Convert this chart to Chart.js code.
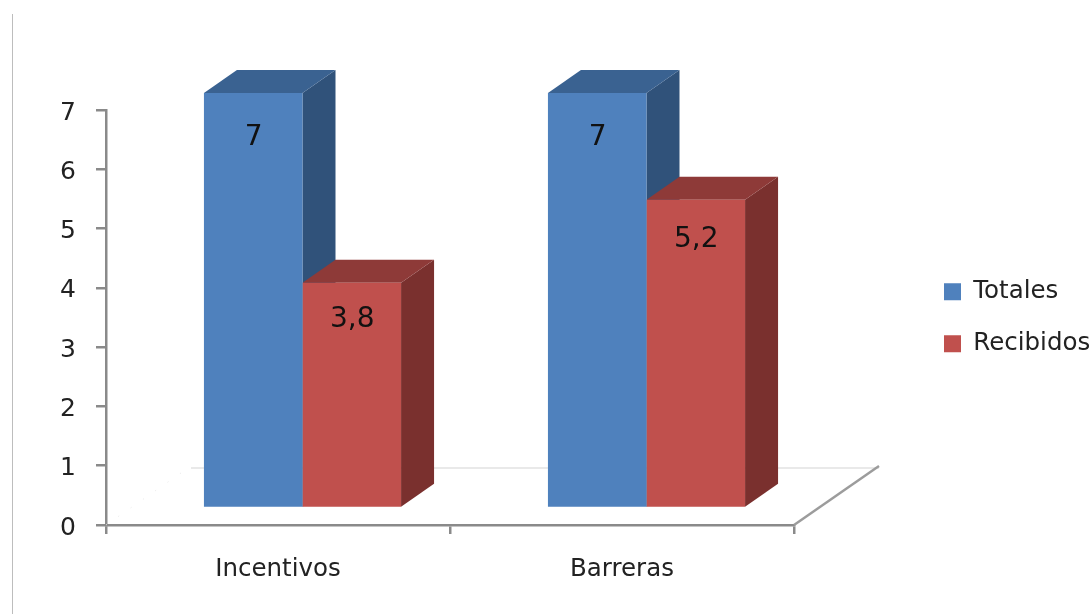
<!DOCTYPE html>
<html>
<head>
<meta charset="utf-8">
<style>
  html, body { margin: 0; padding: 0; background: #ffffff; }
  #box { position: relative; width: 1091px; height: 614px; }
</style>
<script src="https://cdn.jsdelivr.net/npm/chart.js@4"></script>
</head>
<body>
<div id="box"><canvas id="chart"></canvas></div>
<script>
const categories = ['Incentivos', 'Barreras'];
const totales = [7, 7];
const recibidos = [3.8, 5.2];
const yTicks = [0, 1, 2, 3, 4, 5, 6, 7];

const FONT = '"DejaVu Sans", sans-serif';
const TEXT = '#222222';
const AXIS = '#8a8a8a';

// Prism depth and the offset of the bar fronts from the axes
const DEPTH = { x: 33, y: -23 };
const SHIFT = { x: 24.5, y: -17 };
const FLOOR = { x: 85, y: -59 };

const SHADES = [
  { front: '#4f81bd', top: '#3a6291', side: '#30527a' },
  { front: '#c0504d', top: '#8e3a38', side: '#7a302e' }
];

function poly(ctx, color, pts) {
  ctx.fillStyle = color;
  ctx.beginPath();
  pts.forEach((p, i) => i ? ctx.lineTo(p[0], p[1]) : ctx.moveTo(p[0], p[1]));
  ctx.closePath();
  ctx.fill();
}

const prism = {
  id: 'prism',
  beforeLayout(chart) {
    // Reserve the gutter to the right of the plot for the legend
    const legend = chart.legend;
    if (legend && !legend.__wrapped) {
      const fit = legend.fit.bind(legend);
      legend.fit = function () { fit(); this.width = 297; };
      legend.__wrapped = true;
    }
  },
  afterLayout(chart) {
    const legend = chart.legend;
    legend.left = 916.5;
    legend.right = 1091;
    legend.top = 252;
    legend.bottom = 614;
  },
  beforeDraw(chart) {
    const { ctx } = chart;
    ctx.save();
    ctx.strokeStyle = '#bdbdbd';
    ctx.lineWidth = 1;
    ctx.beginPath();
    ctx.moveTo(12.5, 14);
    ctx.lineTo(12.5, 614);
    ctx.stroke();
    ctx.restore();
  },
  beforeDatasetsDraw(chart) {
    const { ctx, chartArea: a } = chart;
    // Floor of the 3D plot
    ctx.save();
    ctx.strokeStyle = '#e2e2e2';
    ctx.lineWidth = 1.5;
    ctx.beginPath();
    ctx.moveTo(a.left + FLOOR.x, a.bottom + FLOOR.y + 2);
    ctx.lineTo(a.right + FLOOR.x, a.bottom + FLOOR.y + 2);
    ctx.stroke();
    ctx.strokeStyle = '#9c9c9c';
    ctx.lineWidth = 2.5;
    ctx.beginPath();
    ctx.moveTo(a.right, a.bottom);
    ctx.lineTo(a.right + FLOOR.x, a.bottom + FLOOR.y);
    ctx.stroke();
    ctx.strokeStyle = '#e6e6e6';
    ctx.lineWidth = 1;
    ctx.setLineDash([1, 14]);
    ctx.beginPath();
    ctx.moveTo(a.left, a.bottom);
    ctx.lineTo(a.left + FLOOR.x, a.bottom + FLOOR.y);
    ctx.stroke();
    ctx.restore();

    ctx.save();
    ctx.translate(SHIFT.x, SHIFT.y);
    // Top and side faces, left to right so nearer prisms cover farther ones
    categories.forEach((_, i) => {
      chart.data.datasets.forEach((ds, d) => {
        const bar = chart.getDatasetMeta(d).data[i];
        const l = bar.x - bar.width / 2, r = bar.x + bar.width / 2;
        const t = bar.y, b = bar.base;
        const c = SHADES[d];
        poly(ctx, c.side, [[r, t], [r + DEPTH.x, t + DEPTH.y], [r + DEPTH.x, b + DEPTH.y], [r, b]]);
        poly(ctx, c.top, [[l, t], [l + DEPTH.x, t + DEPTH.y], [r + DEPTH.x, t + DEPTH.y], [r, t]]);
      });
    });
  },
  afterDatasetsDraw(chart) {
    const { ctx } = chart;
    // Value labels on the front faces
    ctx.fillStyle = '#111111';
    ctx.font = '28px ' + FONT;
    ctx.textAlign = 'center';
    ctx.textBaseline = 'middle';
    chart.data.datasets.forEach((ds, d) => {
      chart.getDatasetMeta(d).data.forEach((bar, i) => {
        const v = ds.data[i];
        const text = String(v).replace('.', ',');
        ctx.fillText(text, bar.x + 0.5, bar.y + 27.5 + 2.5 * v);
      });
    });
    ctx.restore();
  }
};

new Chart(document.getElementById('chart'), {
  type: 'bar',
  data: {
    labels: categories,
    datasets: [
      { label: 'Totales', data: totales, backgroundColor: SHADES[0].front, clip: false },
      { label: 'Recibidos', data: recibidos, backgroundColor: SHADES[1].front, clip: false }
    ]
  },
  options: {
    responsive: true,
    maintainAspectRatio: false,
    animation: false,
    layout: { padding: { top: 110, left: 0, right: 0, bottom: 0 } },
    datasets: { bar: { barPercentage: 1, categoryPercentage: 0.573 } },
    plugins: {
      tooltip: { enabled: false },
      legend: {
        position: 'right',
        align: 'start',
        labels: {
          boxWidth: 17,
          boxHeight: 17,
          padding: 27.5,
          color: TEXT,
          font: { family: FONT, size: 24.5 }
        }
      }
    },
    scales: {
      x: {
        afterFit(s) { s.height = 89; },
        border: { color: AXIS, width: 2.5 },
        grid: { drawOnChartArea: false, drawTicks: true, tickLength: 9, color: AXIS, lineWidth: 2.5 },
        ticks: { color: TEXT, padding: 21, font: { family: FONT, size: 24.5 } }
      },
      y: {
        min: 0,
        max: 7,
        afterFit(s) { s.width = 106; },
        afterBuildTicks(s) { s.ticks = yTicks.map(value => ({ value })); },
        border: { color: AXIS, width: 2.5 },
        grid: { drawOnChartArea: false, drawTicks: true, tickLength: 10, color: AXIS, lineWidth: 2.5 },
        ticks: { color: TEXT, padding: 20, labelOffset: 3, font: { family: FONT, size: 25 } }
      }
    }
  },
  plugins: [prism]
});
</script>
</body>
</html>
